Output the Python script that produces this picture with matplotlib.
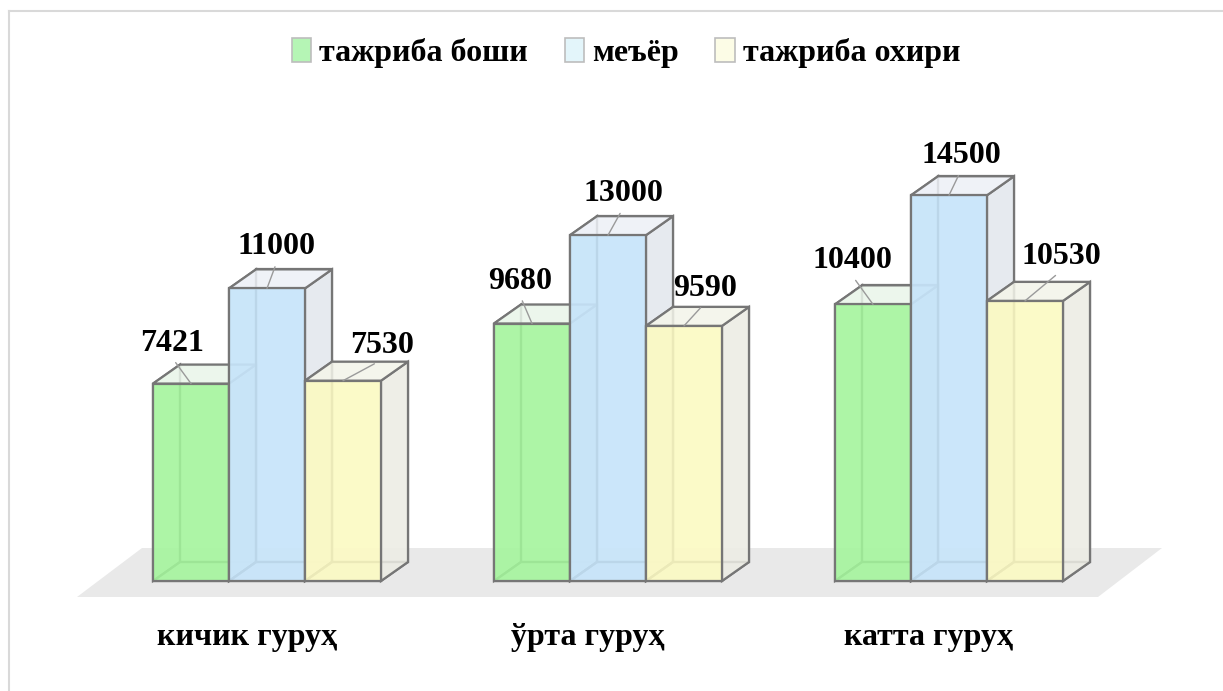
import matplotlib.pyplot as plt
from matplotlib.colors import to_rgb
from matplotlib.patches import Polygon, Patch
from matplotlib.lines import Line2D

plt.rcParams['font.family'] = ['Liberation Serif', 'DejaVu Serif']
plt.rcParams['font.weight'] = 'bold'

groups = ['кичик гуруҳ', 'ўрта гуруҳ', 'катта гуруҳ']
series = ['тажриба боши', 'меъёр', 'тажриба охири']
start_vals = [7421, 9680, 10400]
norm_vals = [11000, 13000, 14500]
end_vals = [7530, 9590, 10530]

front_cols = ['#a3f59b', '#c5e4fa', '#fcfac2']
top_cols = ['#eaf6ea', '#eef1f7', '#f4f5ea']
side_cols = ['#e4ece4', '#e3e8ee', '#ecece4']
edge = '#767676'

# label offsets in pixels (dx, dy to baseline) from the front-top centre of each bar
lab_off = [[(-19, 33), (-12, 35), (-21, 36)],
           [(10, 34), (15, 34), (12, 32)],
           [(39, 28), (21, 30), (36, 37)]]

W, H = 1223, 691
fig = plt.figure(figsize=(W / 100, H / 100), dpi=100)
ax = fig.add_axes([0, 0, 1, 1])

# pixel layout of the pseudo-3d scene
px_cat = 341.0      # px between group centres
px_unit = 0.0266    # px per value unit
x0_px, y0_px = 267, 581
ax.set_xlim(-x0_px / px_cat, (W - x0_px) / px_cat)
ax.set_ylim(-(H - y0_px) / px_unit, y0_px / px_unit)
ax.axis('off')

bw = 76 / px_cat
dx = 27 / px_cat
dy = 19 / px_unit

# grey floor
fl = Polygon([(-190 / px_cat, -16 / px_unit), (831 / px_cat, -16 / px_unit),
              (895 / px_cat, 33 / px_unit), (-125 / px_cat, 33 / px_unit)],
             closed=True, facecolor='#e9e9e9', edgecolor='none', zorder=0)
ax.add_patch(fl)


def box(xl, h, k, z):
    xr = xl + bw
    faces = [
        ([(xl + dx, dy), (xr + dx, dy), (xr + dx, h + dy), (xl + dx, h + dy)], '#f6f6f6', 0.5),
        ([(xl, 0), (xl + dx, dy), (xl + dx, h + dy), (xl, h)], side_cols[k], 0.4),
        ([(xl, 0), (xr, 0), (xr + dx, dy), (xl + dx, dy)], side_cols[k], 0.4),
        ([(xr, 0), (xr + dx, dy), (xr + dx, h + dy), (xr, h)], side_cols[k], 0.85),
        ([(xl, h), (xr, h), (xr + dx, h + dy), (xl + dx, h + dy)], top_cols[k], 0.85),
        ([(xl, 0), (xr, 0), (xr, h), (xl, h)], front_cols[k], 0.88),
    ]
    for j, (pts, fc, a) in enumerate(faces):
        ax.add_patch(Polygon(pts, closed=True, facecolor=(*to_rgb(fc), a),
                             edgecolor=edge, lw=1.6, zorder=z + j * 0.01))


vals = [start_vals, norm_vals, end_vals]
for g in range(len(groups)):
    for k in range(3):
        xl = g + (k - 1) * bw - bw / 2
        h = vals[k][g]
        box(xl, h, k, 1 + g + k * 0.1)
        ax.annotate(str(h), xy=(xl + bw / 2, h), xytext=lab_off[k][g],
                    textcoords='offset pixels', ha='center', va='baseline',
                    fontsize=23, fontweight='bold', zorder=10,
                    arrowprops=dict(arrowstyle='-', color='#9a9a9a', lw=1.0,
                                    shrinkA=2, shrinkB=0, relpos=(0.5, 0)))
    ax.text(g - 20 / px_cat, -64 / px_unit, groups[g], ha='center', va='baseline',
            fontsize=23, fontweight='bold')

handles = [Patch(facecolor=c, edgecolor='#bdbdbd', lw=1.2) for c in ['#b5f5b5', '#e3f5fa', '#fcfce6']]
fig.legend(handles, series, loc='center', bbox_to_anchor=(0.512, 0.923), ncol=3,
           frameon=False, handlelength=0.6, handleheight=0.8,
           handletextpad=0.25, columnspacing=1.15, prop={'weight': 'bold', 'size': 23})

# chart frame (only top and left edges are inside the canvas)
fig.add_artist(Line2D([9 / W, 9 / W], [0, 1 - 11 / H], color='#d9d9d9', lw=1.5))
fig.add_artist(Line2D([9 / W, 1], [1 - 11 / H, 1 - 11 / H], color='#d9d9d9', lw=1.5))

fig.savefig('out.png', dpi=100)
